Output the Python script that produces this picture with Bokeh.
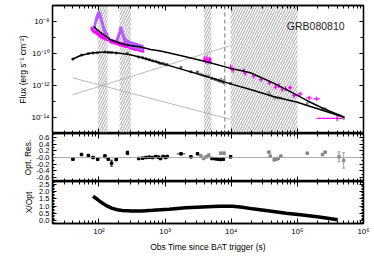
import numpy as np
from bokeh.plotting import figure
from bokeh.layouts import column
from bokeh.models import (Range1d, FixedTicker, CustomJSTickFormatter, LinearAxis,
                          BoxAnnotation, Span, Label, ColumnDataSource, Whisker, TeeHead)
from bokeh.embed import file_html
from bokeh.resources import INLINE

FONT = "Liberation Sans"

# ---------------- data (log10 values) ----------------
# X-ray model (upper thick line) and optical model (lower thick line)
xray_model_logt = [1.918, 2.02, 2.17, 2.32, 2.47, 2.63, 2.78, 2.93, 3.23, 3.64, 3.99, 4.14, 4.29, 4.64, 4.90, 5.15, 5.40, 5.71]
xray_model_logf = [-8.31, -8.67, -9.14, -9.36, -9.50, -9.60, -9.75, -9.85, -10.13, -10.53, -10.93, -11.06, -11.20, -11.85, -12.40, -12.95, -13.45, -13.98]
opt_model_logt = [1.59, 1.72, 1.87, 2.02, 2.17, 2.32, 2.47, 2.63, 2.78, 2.93, 3.23, 3.64, 3.99, 4.29, 4.65, 5.00, 5.15, 5.40, 5.71]
opt_model_logf = [-10.375, -10.125, -9.98, -9.92, -9.92, -9.98, -10.08, -10.23, -10.42, -10.60, -10.96, -11.45, -11.90, -12.25, -12.70, -13.05, -13.25, -13.58, -13.98]

# thin grey component lines
rise_logt = [1.60, 3.99]
rise_logf = [-12.58, -9.50]
decay_logt = [1.60, 3.99]
decay_logf = [-11.52, -14.12]

# X-ray WT data (magenta) and flare data (violet)
wt_logt = [1.89, 1.91, 1.93, 1.95, 1.97, 1.99, 2.01, 2.03, 2.05, 2.07, 2.09, 2.11, 2.13,
           2.15, 2.17, 2.19, 2.21, 2.23, 2.25, 2.27, 2.29, 2.31, 2.33, 2.35, 2.37, 2.39,
           2.41, 2.43, 2.45, 2.47, 2.49, 2.51, 2.53, 2.55, 2.57, 2.59, 2.61, 2.63, 2.65, 2.67]
wt_logf = [-8.45, -8.55, -8.60, -8.65, -8.70, -8.80, -8.85, -8.90, -8.95, -9.00, -9.05, -9.05, -9.10,
           -9.10, -9.20, -9.25, -9.25, -9.30, -9.30, -9.35, -9.35, -9.40, -9.40, -9.45, -9.45, -9.50,
           -9.50, -9.50, -9.55, -9.60, -9.60, -9.65, -9.65, -9.70, -9.70, -9.70, -9.75, -9.75, -9.80, -9.80]
flare_logt = [1.93, 1.94, 1.95, 1.96, 1.97, 1.98, 1.99, 2.00, 2.01, 2.02, 2.03, 2.04, 2.05, 2.06, 2.07,
              2.08, 2.09, 2.10, 2.11, 2.12, 2.13,
              2.27, 2.28, 2.29, 2.30, 2.31, 2.32, 2.33, 2.34, 2.35, 2.36, 2.37, 2.38, 2.39, 2.40, 2.42,
              2.44, 2.46, 2.48, 2.50, 2.52, 2.54, 2.56, 2.58, 2.60, 2.62, 2.64, 2.66]
flare_logf = [-8.40, -8.20, -8.00, -7.85, -7.75, -7.65, -7.60, -7.55, -7.58, -7.65, -7.80, -7.95, -8.10, -8.25, -8.40,
              -8.55, -8.65, -8.75, -8.85, -8.90, -8.95,
              -9.20, -9.10, -9.00, -8.85, -8.70, -8.55, -8.50, -8.55, -8.65, -8.80, -8.95, -9.05, -9.15, -9.20, -9.30,
              -9.35, -9.40, -9.45, -9.45, -9.50, -9.50, -9.55, -9.55, -9.60, -9.60, -9.65, -9.65]
wt_err = 0.14
flare_err = 0.2

# X-ray PC data (magenta crosses)
pc_logt = [3.59, 3.61, 3.63, 3.65, 3.67, 3.69, 3.99, 4.01, 4.03, 4.19, 4.21, 4.34, 4.45, 4.58,
           4.67, 4.72, 4.77, 4.82, 4.89, 4.95, 5.04, 5.18, 5.29, 5.60]
pc_logt_lo = [3.58, 3.60, 3.62, 3.64, 3.66, 3.68, 3.98, 4.00, 4.02, 4.17, 4.19, 4.31, 4.42, 4.55,
              4.64, 4.70, 4.75, 4.80, 4.86, 4.92, 5.00, 5.14, 5.24, 5.30]
pc_logt_hi = [3.60, 3.62, 3.64, 3.66, 3.68, 3.70, 4.00, 4.02, 4.04, 4.21, 4.23, 4.37, 4.48, 4.61,
              4.70, 4.74, 4.79, 4.84, 4.92, 4.98, 5.08, 5.22, 5.34, 5.71]
pc_logf = [-10.35, -10.45, -10.30, -10.50, -10.40, -10.45, -10.85, -10.95, -11.05, -11.06, -11.25,
           -11.42, -11.63, -11.83, -12.10, -12.00, -12.25, -12.20, -12.14, -12.63, -12.52, -12.77, -12.83, -14.05]
pc_err = [0.18, 0.18, 0.18, 0.18, 0.18, 0.18, 0.16, 0.16, 0.16, 0.14, 0.14, 0.14, 0.14, 0.14,
          0.15, 0.15, 0.15, 0.15, 0.15, 0.15, 0.13, 0.13, 0.13, 0.17]

# optical data: dark (black) and light (grey) sets, flux and residuals
opt_dark_logt = [1.606, 1.736, 1.84, 1.91, 1.98, 2.09, 2.14, 2.19, 2.26, 2.43, 2.60, 2.66, 2.71, 2.76, 2.81,
                 2.86, 2.90, 2.93, 2.97, 3.01, 3.03, 3.24, 3.39, 3.49, 3.71, 3.76, 3.80, 3.84, 3.88, 3.99]
opt_dark_logf = [-10.35, -10.10, -10.00, -9.97, -9.95, -9.90, -9.94, -9.95, -9.97, -10.00, -10.22, -10.27, -10.33,
                 -10.39, -10.46, -10.50, -10.56, -10.62, -10.63, -10.70, -10.70, -10.87, -11.14, -11.16, -11.57,
                 -11.63, -11.69, -11.74, -11.81, -11.88]
res_dark = [-0.05, 0.09, 0.06, 0.00, -0.05, 0.04, -0.05, -0.17, -0.06, 0.14, -0.03, -0.02, 0.00, 0.01, 0.00,
            0.03, 0.01, -0.03, 0.03, 0.00, 0.03, 0.11, 0.02, 0.11, -0.03, -0.04, -0.05, -0.06, -0.05, 0.02]
res_dark_err = [0.02, 0.02, 0.02, 0.02, 0.02, 0.05, 0.02, 0.09, 0.02, 0.05, 0.02, 0.02, 0.02, 0.02, 0.02,
                0.02, 0.02, 0.02, 0.02, 0.02, 0.02, 0.02, 0.02, 0.02, 0.02, 0.02, 0.02, 0.02, 0.02, 0.03]
res_dark_dt = [0.0, 0.0, 0.0, 0.0, 0.0, 0.0, 0.0, 0.0, 0.0, 0.0, 0.0, 0.0, 0.0, 0.0, 0.0,
               0.0, 0.0, 0.0, 0.0, 0.0, 0.0, 0.065, 0.0, 0.0, 0.0, 0.0, 0.0, 0.0, 0.0, 0.0]
opt_grey_logt = [3.54, 3.58, 3.62, 3.66, 3.84, 3.89, 4.57, 4.59, 4.65, 4.68, 4.71, 4.75, 5.15, 5.38, 5.42, 5.63, 5.70]
opt_grey_logf = [-11.29, -11.36, -11.42, -11.41, -11.61, -11.67, -12.44, -12.60, -12.77, -12.77, -12.78, -12.78,
                 -13.12, -13.46, -13.45, -13.86, -14.05]
res_grey = [0.05, -0.03, 0.02, 0.07, 0.13, 0.13, 0.16, 0.04, -0.07, -0.05, -0.03, 0.04, 0.13, 0.09, 0.16, 0.02, -0.09]
res_grey_err = [0.03, 0.03, 0.03, 0.04, 0.03, 0.03, 0.03, 0.03, 0.03, 0.03, 0.03, 0.03, 0.02, 0.02, 0.02, 0.15, 0.23]

# X/Opt ratio curve
ratio_logt = [1.91, 1.98, 2.05, 2.12, 2.20, 2.28, 2.35, 2.50, 2.65, 2.81, 3.06, 3.31, 3.56, 3.82, 4.02,
              4.17, 4.32, 4.58, 4.83, 5.08, 5.33, 5.61]
ratio = [1.67, 1.45, 1.21, 1.02, 0.85, 0.76, 0.71, 0.67, 0.68, 0.72, 0.80, 0.89, 0.95, 1.00, 1.00,
         0.93, 0.82, 0.68, 0.53, 0.40, 0.27, 0.09]

# excluded (flare) intervals and dashed line (s)
band_left = [97, 205, 3850, 9800]
band_right = [135, 305, 5000, 100000]
dash_time = 8000
grb_name = "GRB080810"

# ---------------- helpers ----------------
def L(a):
    return 10 ** np.asarray(a, dtype=float)

W = 370
xr = Range1d(10 ** 1.297, 1e6)

x_major = [1e2, 1e3, 1e4, 1e5, 1e6]
x_minor = [k * 10.0 ** e for e in range(1, 6) for k in range(2, 10)]
xticker = FixedTicker(ticks=x_major, minor_ticks=x_minor)

sup_code = """
const sup = {"-":"\\u207b","0":"\\u2070","1":"\\u00b9","2":"\\u00b2","3":"\\u00b3","4":"\\u2074","5":"\\u2075","6":"\\u2076","7":"\\u2077","8":"\\u2078","9":"\\u2079"};
const e = Math.round(Math.log10(tick));
let s = "";
for (const c of String(e)) { s += sup[c]; }
return "10" + s;
"""


def blank():
    return CustomJSTickFormatter(code="return '';")


def style(ax, show, tin=4, mtin=2, fs="8px"):
    ax.major_tick_in = tin
    ax.major_tick_out = 0
    ax.minor_tick_in = mtin
    ax.minor_tick_out = 0
    ax.axis_line_color = "black"
    ax.axis_line_width = 1.3
    ax.major_tick_line_color = "black"
    ax.minor_tick_line_color = "black"
    ax.major_label_text_font = FONT
    ax.major_label_text_color = "black"
    ax.major_label_text_font_size = fs if show else "0px"
    ax.major_label_standoff = 3 if show else 0
    ax.axis_label_text_font = FONT
    ax.axis_label_text_font_style = "normal"
    ax.axis_label_text_font_size = "8.5px"
    ax.axis_label_text_color = "black"


def panel(height, y_range, ytype, yticker, yfmt, ylabel, ylabel_standoff, top_border, bottom_border, show_x, fs="8px"):
    p = figure(width=W, height=height, x_range=xr, y_range=y_range, x_axis_type="log",
               y_axis_type=ytype, output_backend="svg", toolbar_location=None,
               min_border_left=52, min_border_right=7, min_border_top=top_border,
               min_border_bottom=bottom_border)
    p.grid.visible = False
    p.outline_line_color = "black"
    p.outline_line_width = 1.3
    xa = p.below[0]
    xa.ticker = xticker
    xa.formatter = CustomJSTickFormatter(code=sup_code) if show_x else blank()
    style(xa, show_x, 5, 3)
    ya = p.left[0]
    ya.ticker = yticker
    ya.formatter = yfmt
    ya.axis_label = ylabel
    ya.axis_label_standoff = ylabel_standoff
    style(ya, True, 4, 2, fs)
    top = LinearAxis(ticker=xticker, formatter=blank())
    style(top, False, 5, 3)
    p.add_layout(top, "above")
    right = LinearAxis(ticker=yticker, formatter=blank())
    style(right, False)
    p.add_layout(right, "right")
    return p, xa, ya, right

# ---------------- top panel ----------------
fticker = FixedTicker(ticks=[1e-14, 1e-12, 1e-10, 1e-8], minor_ticks=[1e-15, 1e-13, 1e-11, 1e-9, 1e-7])
p1, x1, y1, r1 = panel(133, Range1d(1e-15, 1e-7), "log", fticker, CustomJSTickFormatter(code=sup_code),
                       "Flux (erg s\u207b\u00b9 cm\u207b\u00b2)", 1, 5, 0, False)
y1.minor_tick_in = 3
r1.minor_tick_in = 3

for lft, rgt in zip(band_left, band_right):
    p1.add_layout(BoxAnnotation(left=lft, right=rgt, fill_alpha=0, line_alpha=0,
                                hatch_pattern="/", hatch_color="#9a9a9a", hatch_scale=5,
                                hatch_weight=0.9, hatch_alpha=1.0, level="underlay"))
p1.add_layout(Span(location=dash_time, dimension="height", line_color="#777777",
                   line_dash="4 3", line_width=1))

p1.line(L(rise_logt), L(rise_logf), line_color="#aaaaaa", line_width=0.8)
p1.line(L(decay_logt), L(decay_logf), line_color="#aaaaaa", line_width=0.8)

# X-ray WT data
wt_t = L(wt_logt)
p1.segment(wt_t, L(np.array(wt_logf) - wt_err), wt_t, L(np.array(wt_logf) + wt_err),
           line_color="#ff00ff", line_width=2)
fl_t = L(flare_logt)
p1.segment(fl_t, L(np.array(flare_logf) - flare_err), fl_t, L(np.array(flare_logf) + flare_err),
           line_color="#b55cff", line_width=2)
# X-ray PC crosses
pc_t = L(pc_logt)
p1.segment(pc_t, L(np.array(pc_logf) - np.array(pc_err)), pc_t, L(np.array(pc_logf) + np.array(pc_err)),
           line_color="#ff00ff", line_width=1.3)
p1.segment(L(pc_logt_lo), L(pc_logf), L(pc_logt_hi), L(pc_logf), line_color="#ff00ff", line_width=1.3)

# optical data
p1.scatter(L(opt_grey_logt), L(opt_grey_logf), marker="square", size=2, color="#999999")
p1.scatter(L(opt_dark_logt), L(opt_dark_logf), marker="square", size=2, color="#666666")

# models
p1.line(L(xray_model_logt), L(xray_model_logf), line_color="black", line_width=1.5)
p1.line(L(opt_model_logt), L(opt_model_logf), line_color="black", line_width=1.5)

p1.add_layout(Label(x=10 ** 4.84, y=10 ** -8.25, text=grb_name, text_font=FONT,
                    text_font_size="10.5px", text_baseline="middle", text_color="#222222"))

# ---------------- middle panel ----------------
rticker = FixedTicker(ticks=[-0.6, -0.4, -0.2, 0.0, 0.2, 0.4, 0.6],
                      minor_ticks=[-0.7, -0.5, -0.3, -0.1, 0.1, 0.3, 0.5, 0.7])
rfmt = CustomJSTickFormatter(code="if (Math.abs(tick) < 1e-9) { return '-0.0'; } return tick.toFixed(1);")
p2, x2, y2, r2 = panel(48, Range1d(-0.72, 0.72), "linear", rticker, rfmt, "Opt. Res.", 1, 0, 0, False, "7.5px")
p2.add_layout(Span(location=0, dimension="width", line_color="#999999", line_width=0.8))

for lt, rv, er, col in [(opt_dark_logt, res_dark, res_dark_err, "black"),
                        (opt_grey_logt, res_grey, res_grey_err, "#888888")]:
    src = ColumnDataSource(dict(t=L(lt), r=np.array(rv),
                                lo=np.array(rv) - np.array(er), hi=np.array(rv) + np.array(er)))
    p2.add_layout(Whisker(base="t", lower="lo", upper="hi", source=src, dimension="height",
                          line_color=col, line_width=0.8,
                          lower_head=TeeHead(size=3, line_color=col, line_width=0.8),
                          upper_head=TeeHead(size=3, line_color=col, line_width=0.8)))
    p2.scatter("t", "r", source=src, marker="square", size=2.5, color=col)

dt = np.array(res_dark_dt)
sel = dt > 0
p2.segment(L(np.array(opt_dark_logt)[sel] - dt[sel]), np.array(res_dark)[sel],
           L(np.array(opt_dark_logt)[sel] + dt[sel]), np.array(res_dark)[sel],
           line_color="black", line_width=0.8)

# ---------------- bottom panel ----------------
qticker = FixedTicker(ticks=[0.0, 0.5, 1.0, 1.5, 2.0, 2.5],
                      minor_ticks=[-0.1, 0.1, 0.2, 0.3, 0.4, 0.6, 0.7, 0.8, 0.9, 1.1, 1.2, 1.3, 1.4,
                                   1.6, 1.7, 1.8, 1.9, 2.1, 2.2, 2.3, 2.4, 2.6])
qfmt = CustomJSTickFormatter(code="return tick.toFixed(1);")
p3, x3, y3, r3 = panel(73, Range1d(-0.17, 2.67), "linear", qticker, qfmt, "X/Opt", 2, 0, 24, True, "7.5px")
x3.axis_label = "Obs Time since BAT trigger (s)"
x3.axis_label_standoff = 3
p3.line(L(ratio_logt), ratio, line_color="black", line_width=3.5)

layout = column(p1, p2, p3, spacing=0)
open("out.html", "w").write(file_html(layout, INLINE))
